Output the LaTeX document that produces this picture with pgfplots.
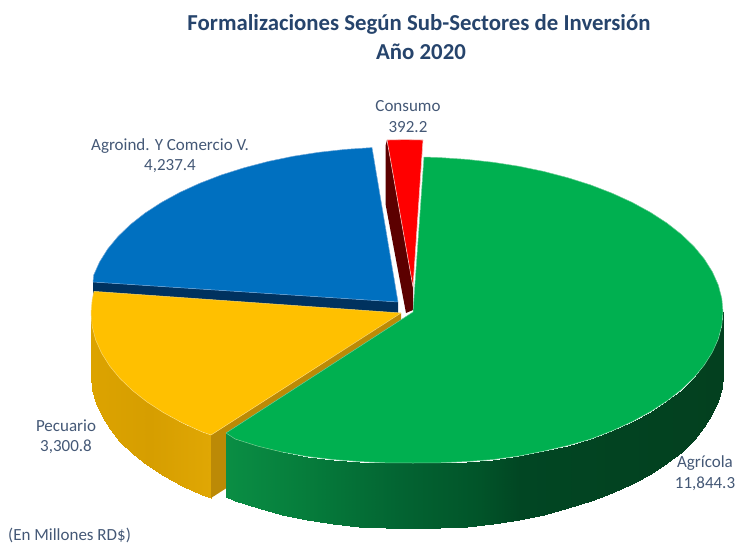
\documentclass[border=0pt]{standalone}
\usepackage{pgfplots}
\pgfplotsset{compat=1.18}
\usepackage{fontspec}
\setmainfont{Carlito}
\definecolor{titlec}{RGB}{38,68,108}
\definecolor{labc}{RGB}{68,88,118}
\begin{document}
\begin{tikzpicture}
\path[use as bounding box] (0,0) rectangle (738pt,543pt);
\begin{axis}[
  width=738pt,height=543pt,scale only axis,at={(0,0)},anchor=south west,
  xmin=0,xmax=738,ymin=0,ymax=543,y dir=reverse,
  axis lines=none,clip=false,
  point meta min=226,point meta max=1211,
  colormap={sides}{
    rgb255(226)=(10,142,68) rgb255(300)=(6,126,60) rgb255(400)=(3,100,50)
    rgb255(480)=(1,84,41) rgb255(520)=(1,70,35) rgb255(723)=(3,64,31)
    rgb255(1091)=(220,163,0) rgb255(1150)=(214,158,0) rgb255(1211)=(224,167,4)
  },
]
% blue wall and top
\addplot[fill={rgb,255:red,0;green,50;blue,95},draw=none] coordinates {(93,282)(398,302)(398,365)(93,345)} --cycle;
\addplot[fill={rgb,255:red,0;green,112;blue,192},draw={rgb,255:red,110;green,165;blue,215},line width=0.5pt,line join=round] coordinates {
(398,302)(93,282)(93.7,275.1)(99.6,261.9)(107.7,249)(118,236.5)(130.5,224.5)(145,213.1)(161.5,202.4)(179.8,192.4)(199.7,183.3)(221.2,175)(244,167.8)(268,161.5)(293,156.3)(318.8,152.3)(345.2,149.4)(372,147.6)} --cycle;
% red wall and top
\addplot[fill={rgb,255:red,92;green,0;blue,0},draw=none] coordinates {(387,140)(385.7,145)(385.7,205)(406,313)(413,310)(413,287)} --cycle;
\addplot[fill=red,draw={rgb,255:red,245;green,190;blue,185},line width=0.6pt,line join=round] coordinates {(413,287)(387,140)(405,139.6)(423,140)} --cycle;
% yellow side, wall, top
\addplot[surf,shader=interp,mesh/cols=12,mesh/rows=2,point meta={x+1000}] table[x=x,y=y] {
x y
91 313
92.2 326.5
95.7 339.9
101.6 353.1
109.7 366
120 378.5
132.5 390.5
147 401.9
163.5 412.6
181.8 422.6
201.7 431.7
211 435
91 376
92.2 389.5
95.7 402.9
101.6 416.1
109.7 429
120 441.5
132.5 453.5
147 464.9
163.5 475.6
181.8 485.6
201.7 494.7
211 498
};
\addplot[fill={rgb,255:red,188;green,138;blue,6},draw=none] coordinates {(211,435)(401,313)(401,376)(211,498)} --cycle;
\addplot[fill={rgb,255:red,255;green,192;blue,0},draw={rgb,255:red,250;green,215;blue,110},line width=0.5pt,line join=round] coordinates {
(401,313)(94,291.4)(92.2,299.5)(91,313)(92.2,326.5)(95.7,339.9)(101.6,353.1)(109.7,366)(120,378.5)(132.5,390.5)(147,401.9)(163.5,412.6)(181.8,422.6)(201.7,431.7)(211,435)} --cycle;
% green side and top
\addplot[surf,shader=interp,mesh/cols=27,mesh/rows=2,point meta=x] table[x=x,y=y] {
x y
723 312
721.8 325.5
718.3 338.9
712.4 352.1
704.3 365
694 377.5
681.5 389.5
667 400.9
650.5 411.6
632.2 421.6
612.3 430.7
590.8 439
568 445.5
544 451
519 456
493.2 459.5
466.8 461.5
440 462.8
413 463
386 462.8
359.2 461.5
332.8 459.5
307 456.5
282 452
258 446.2
235.2 439
226 433
723 374
721.8 387.5
718.3 400.9
712.4 414.1
704.3 427
694 439.5
681.5 451.5
667 462.9
650.5 473.6
632.2 483.6
612.3 492.7
590.8 501
568 508.2
544 514.5
519 519.7
493.2 523.7
466.8 526.6
440 528
413 528.5
386 528
359.2 526.6
332.8 523.7
307 519.7
282 514.5
258 508.2
235.2 501
226 496.5
};
\addplot[fill={rgb,255:red,0;green,176;blue,80},draw={rgb,255:red,110;green,205;blue,150},line width=0.5pt,line join=round] coordinates {
(413,312)(424,157)(440,157.6)(466.8,159.4)(493.2,162.3)(519,166.3)(544,171.5)(568,177.8)(590.8,185)(612.3,193.3)(632.2,202.4)(650.5,212.4)(667,223.1)(681.5,234.5)(694,246.5)(704.3,259)(712.4,271.9)(718.3,285.1)(721.8,298.5)(723,312)(721.8,325.5)(718.3,338.9)(712.4,352.1)(704.3,365)(694,377.5)(681.5,389.5)(667,400.9)(650.5,411.6)(632.2,421.6)(612.3,430.7)(590.8,439)(568,445.5)(544,451)(519,456)(493.2,459.5)(466.8,461.5)(440,462.8)(413,463)(386,462.8)(359.2,461.5)(332.8,459.5)(307,456.5)(282,452)(258,446.2)(235.2,439)(226,433)} --cycle;
% texts
\node[text=titlec,font=\fontsize{22.8}{26}\selectfont\bfseries] at (axis cs:419,24) {Formalizaciones Según Sub-Sectores de Inversión};
\node[text=titlec,font=\fontsize{22.8}{26}\selectfont\bfseries] at (axis cs:421,52) {Año 2020};
\node[text=labc,font=\fontsize{17}{20}\selectfont] at (axis cs:408,106) {Consumo};
\node[text=labc,font=\fontsize{17}{20}\selectfont] at (axis cs:408,127) {392.2};
\node[text=labc,font=\fontsize{17}{20}\selectfont] at (axis cs:170,146) {Agroind. Y Comercio V.};
\node[text=labc,font=\fontsize{17}{20}\selectfont] at (axis cs:170,166) {4,237.4};
\node[text=labc,font=\fontsize{17}{20}\selectfont] at (axis cs:66,426) {Pecuario};
\node[text=labc,font=\fontsize{17}{20}\selectfont] at (axis cs:66,447) {3,300.8};
\node[text=labc,font=\fontsize{17}{20}\selectfont] at (axis cs:705,463) {Agrícola};
\node[text=labc,font=\fontsize{17}{20}\selectfont] at (axis cs:705,484) {11,844.3};
\node[text=labc,font=\fontsize{17}{20}\selectfont,anchor=west,inner xsep=0pt] at (axis cs:8,535) {(En Millones RD\$)};
\end{axis}
\end{tikzpicture}
\end{document}
